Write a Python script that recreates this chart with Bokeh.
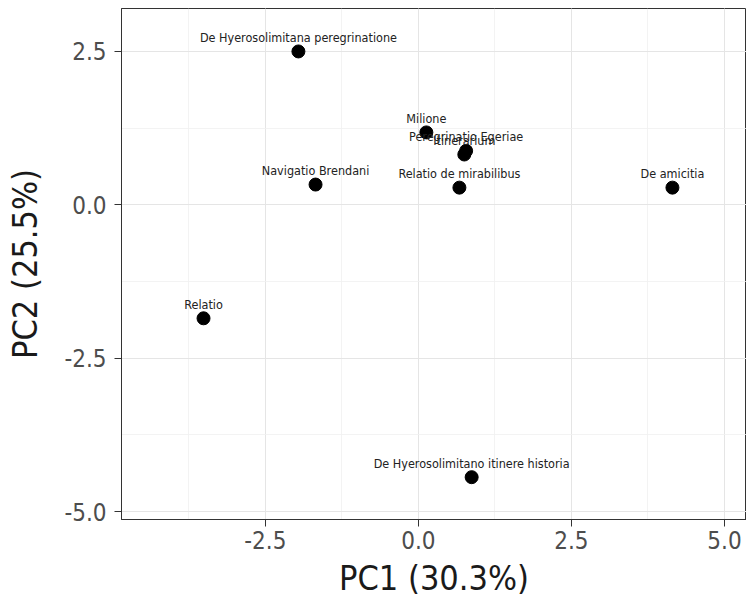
from bokeh.plotting import figure
from bokeh.models import Range1d, SingleIntervalTicker, PrintfTickFormatter, ColumnDataSource
from bokeh.core.properties import value
from bokeh.embed import file_html
from bokeh.resources import INLINE

texts = ["De Hyerosolimitana peregrinatione", "Milione", "Peregrinatio Egeriae", "Itinerarium",
         "Navigatio Brendani", "Relatio de mirabilibus", "De amicitia", "Relatio",
         "De Hyerosolimitano itinere historia"]
pc1 = [-1.96, 0.13, 0.78, 0.75, -1.68, 0.67, 4.15, -3.51, 0.87]
pc2 = [2.50, 1.18, 0.88, 0.82, 0.33, 0.28, 0.28, -1.85, -4.44]
tick_step = 2.5

FONT = "Liberation Sans Narrow, DejaVu Sans Condensed, sans-serif"

src = ColumnDataSource(dict(x=pc1, y=pc2, t=texts))

p = figure(width=746, height=605, output_backend="svg", toolbar_location=None,
           x_range=Range1d(-4.85, 5.36), y_range=Range1d(-5.13, 3.2),
           min_border_left=121, min_border_top=8, min_border_bottom=86, min_border_right=0)

p.background_fill_color = "white"
p.border_fill_color = "white"
p.outline_line_color = "#333333"
p.outline_line_width = 1

for ax in (p.xaxis[0], p.yaxis[0]):
    ax.ticker = SingleIntervalTicker(interval=tick_step, num_minor_ticks=2)
    ax.formatter = PrintfTickFormatter(format="%.1f")
    ax.major_label_text_font = FONT
    ax.major_label_text_font_size = "24px"
    ax.major_label_text_color = "#4d4d4d"
    ax.axis_label_text_font = FONT
    ax.axis_label_text_font_size = "34px"
    ax.axis_label_text_font_style = "normal"
    ax.axis_label_text_color = "#1a1a1a"
    ax.axis_line_color = "#333333"
    ax.major_tick_line_color = "#333333"
    ax.major_tick_out = 7
    ax.major_tick_in = 0
    ax.minor_tick_line_color = None

p.xaxis.major_label_standoff = 4
p.xaxis.axis_label_standoff = 6
p.yaxis.major_label_standoff = 8
p.yaxis.axis_label_standoff = 16

p.xaxis.axis_label = "PC1 (30.3%)"
p.yaxis.axis_label = "PC2 (25.5%)"
p.yaxis.major_label_orientation = "horizontal"

for g in (p.xgrid[0], p.ygrid[0]):
    g.ticker = SingleIntervalTicker(interval=tick_step, num_minor_ticks=2)
    g.grid_line_color = "#e5e5e5"
    g.grid_line_width = 1
    g.minor_grid_line_color = "#f0f0f0"
    g.minor_grid_line_width = 0.8

p.scatter("x", "y", source=src, size=13, color="black")
p.text("x", "y", text="t", source=src, text_align="center", text_baseline="alphabetic",
       y_offset=-14, text_font=value(FONT), text_font_size="12.5px", text_color="#222222")

open("out.html", "w").write(file_html(p, INLINE))
